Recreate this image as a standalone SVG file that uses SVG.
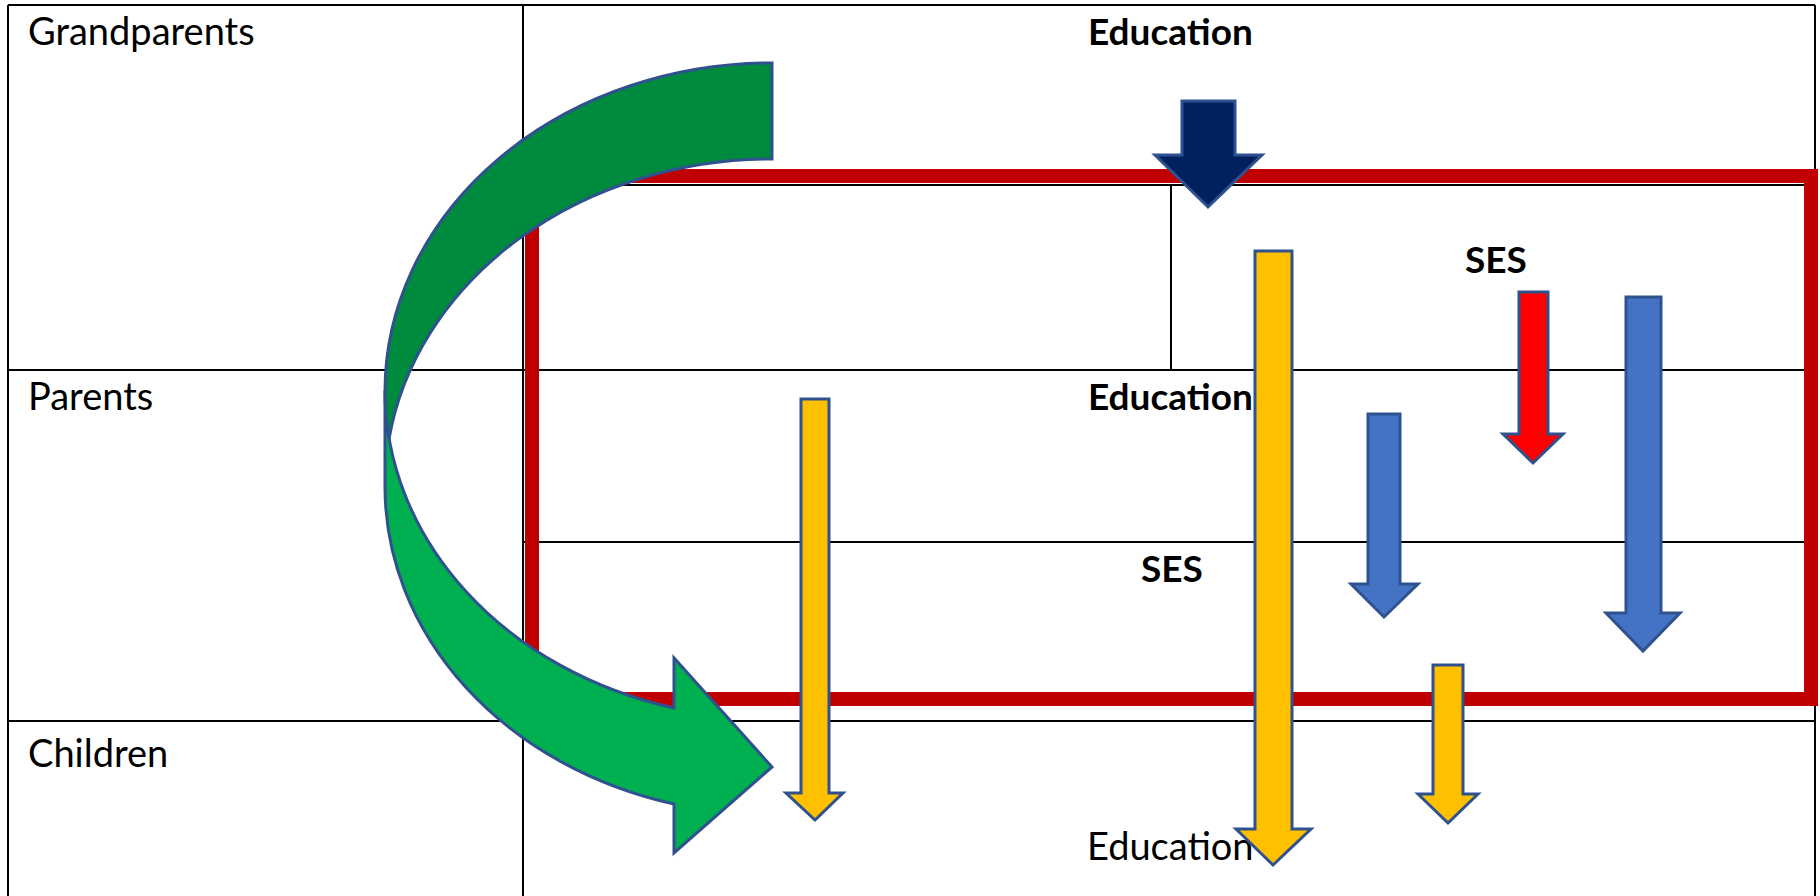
<svg xmlns="http://www.w3.org/2000/svg" width="1820" height="896" viewBox="0 0 1820 896">
<style>
.grid{stroke:#000;stroke-width:2;fill:none}
.lbl{font-family:Lato,"Liberation Sans",sans-serif;font-size:38px;fill:#000}
.b{font-weight:bold;font-size:37px}
.arr{stroke:#2F528F;stroke-width:3;stroke-linejoin:miter}
.yel{fill:#FFC000}
.blu{fill:#4472C4}
.red{fill:#FF0000}
.nav{fill:#002060}
</style>
<rect width="1820" height="896" fill="#fff"/>
<g id="table" class="grid">
<line x1="8" y1="5" x2="1815" y2="5"/>
<line x1="8" y1="5" x2="8" y2="896"/>
<line x1="1815" y1="5" x2="1815" y2="896"/>
<line x1="523" y1="5" x2="523" y2="896"/>
<line x1="8" y1="370" x2="1815" y2="370"/>
<line x1="8" y1="721" x2="1815" y2="721"/>
<line x1="523" y1="542" x2="1815" y2="542"/>
<line x1="523" y1="185" x2="1815" y2="185"/>
<line x1="1171" y1="185" x2="1171" y2="370"/>
</g>
<g id="labels">
<text class="lbl" x="28" y="45">Grandparents</text>
<text class="lbl" x="28" y="410">Parents</text>
<text class="lbl" x="28" y="767">Children</text>
<text class="lbl b" x="1088" y="45">Education</text>
<text class="lbl b" x="1088" y="410">Education</text>
<text class="lbl b" x="1465" y="273">SES</text>
<text class="lbl b" x="1141" y="582">SES</text>
<text class="lbl" x="1087" y="860" font-size="37">Education</text>
</g>
<g id="red-frame">
<rect x="532" y="176" width="1279" height="523" fill="none" stroke="#C00000" stroke-width="14"/>
</g>
<g id="connectors">
<g id="green-curved-arrow" class="arr">
<path fill="#00B050" d="M385,391 A387,328 0 0 0 674,708 L674,658 L772,767 L674,853 L674,804 A387,328 0 0 1 385,487 Z"/>
<path fill="#008A3E" d="M772,63 A387,328 0 0 0 385,391 A387,328 0 0 0 389,439 A387,328 0 0 1 772,159 Z"/>
</g>
<polygon id="arrow-navy" class="arr nav" points="1182,101 1235,101 1235,155 1262,155 1208,207 1155,155 1182,155"/>
<polygon id="arrow-yellow-tall" class="arr yel" points="1255,251 1292,251 1292,829 1311,829 1273,865 1236,829 1255,829"/>
<polygon id="arrow-red" class="arr red" points="1519,292 1548,292 1548,434 1563,434 1533,463 1503,434 1519,434"/>
<polygon id="arrow-blue-right" class="arr blu" points="1626,297 1661,297 1661,613 1680,613 1643,651 1606,613 1626,613"/>
<polygon id="arrow-blue-mid" class="arr blu" points="1368,414 1400,414 1400,584 1418,584 1384,617 1351,584 1368,584"/>
<polygon id="arrow-yellow-small" class="arr yel" points="1433,665 1463,665 1463,794 1478,794 1448,823 1418,794 1433,794"/>
<polygon id="arrow-yellow-left" class="arr yel" points="801,399 829,399 829,793 843,793 815,820 786,793 801,793"/>
</g>
</svg>
